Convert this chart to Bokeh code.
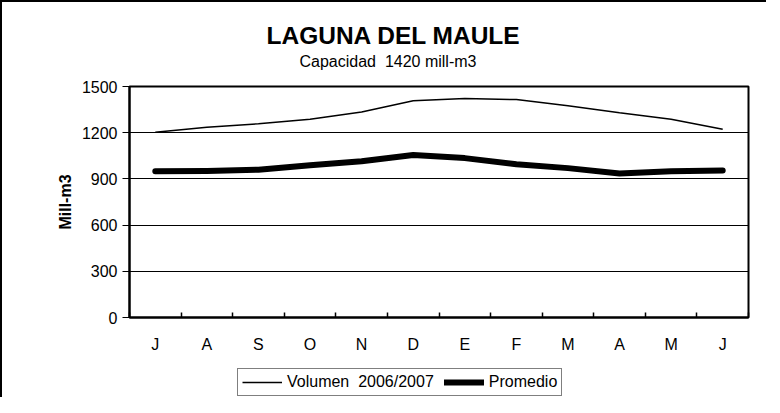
from bokeh.plotting import figure
from bokeh.layouts import column
from bokeh.models import FixedTicker, Legend, LegendItem, Title, ColumnDataSource
from bokeh.embed import file_html
from bokeh.resources import INLINE

# ---- data ----
months = ["J", "A", "S", "O", "N", "D", "E", "F", "M", "A", "M", "J"]
volumen = [1203, 1235, 1258, 1288, 1335, 1408, 1422, 1415, 1375, 1330, 1288, 1222]
promedio = [950, 952, 960, 988, 1015, 1055, 1035, 995, 970, 935, 950, 955]
y_ticks = [0, 300, 600, 900, 1200, 1500]
series_names = ["Volumen\u00a0 2006/2007", "Promedio"]

FONT = "Liberation Sans"

x = [i + 0.5 for i in range(len(months))]
src = ColumnDataSource(dict(x=x, vol=volumen, prom=promedio))

p = figure(frame_width=617, frame_height=229, x_range=(0, len(months)), y_range=(0, 1500),
           output_backend="svg", toolbar_location=None,
           min_border_left=127, min_border_right=20,
           min_border_top=84, min_border_bottom=47)
p.styles = {"border-top": "2px solid #000", "border-left": "2px solid #000"}

p.outline_line_color = "black"
p.outline_line_width = 2
p.background_fill_color = "white"
p.border_fill_color = "white"

thin = dict(line_color="black", line_width=1.5)
thick = dict(line_color="black", line_width=6, line_cap="round", line_join="round")

r1 = p.line("x", "vol", source=src, **thin)
r2 = p.line("x", "prom", source=src, **thick)

# titles
sub = Title(text="Capacidad\u00a0 1420 mill-m3", align="left", offset=170,
            text_font=FONT, text_font_size="16px", text_font_style="normal",
            text_color="black", standoff=33)
main = Title(text="LAGUNA DEL MAULE", align="left", offset=137,
             text_font=FONT, text_font_size="24.5px", text_font_style="bold",
             text_color="black", standoff=-29)
p.add_layout(sub, "above")
p.add_layout(main, "above")

# y axis
yax = p.yaxis[0]
yax.ticker = FixedTicker(ticks=y_ticks)
yax.axis_line_color = "black"
yax.axis_line_width = 2
yax.major_tick_out = 7
yax.major_tick_in = 0
yax.major_tick_line_width = 1
yax.minor_tick_line_color = None
yax.major_label_text_font = FONT
yax.major_label_text_font_size = "16px"
yax.major_label_text_color = "black"
yax.major_label_standoff = 5
yax.axis_label = "Mill-m3"
yax.axis_label_text_font = FONT
yax.axis_label_text_font_size = "16px"
yax.axis_label_text_font_style = "bold"
yax.axis_label_text_color = "black"
yax.axis_label_standoff = 5

# x axis: labels at month centres, ticks at boundaries
xax = p.xaxis[0]
xax.ticker = FixedTicker(ticks=x, minor_ticks=list(range(len(months) + 1)))
xax.major_label_overrides = {xi: m for xi, m in zip(x, months)}
xax.axis_line_color = "black"
xax.axis_line_width = 2
xax.major_tick_in = 0
xax.major_tick_out = 0
xax.minor_tick_in = 5
xax.minor_tick_out = 0
xax.minor_tick_line_color = "black"
xax.minor_tick_line_width = 1.5
xax.major_label_text_font = FONT
xax.major_label_text_font_size = "16px"
xax.major_label_text_color = "black"
xax.major_label_standoff = 18

p.xgrid.grid_line_color = None
p.ygrid.ticker = FixedTicker(ticks=y_ticks)
p.ygrid.grid_line_color = "black"
p.ygrid.grid_line_width = 1

# legend strip below the chart (same series, same styles)
q = figure(width=764, height=35, x_range=(0, 1), y_range=(0, 1),
           output_backend="svg", toolbar_location=None,
           x_axis_location=None, y_axis_location=None,
           min_border_left=0, min_border_right=0, min_border_top=0, min_border_bottom=0)
q.styles = {"border-left": "2px solid #000"}
q.outline_line_color = None
q.grid.grid_line_color = None
q.background_fill_color = "white"
q.border_fill_color = "white"
l1 = q.line("x", "vol", source=src, **thin)
l2 = q.line("x", "prom", source=src, **thick)

legend = Legend(items=[LegendItem(label=series_names[0], renderers=[l1]),
                       LegendItem(label=series_names[1], renderers=[l2])],
                orientation="horizontal", location=(108, 1))
legend.label_text_font = FONT
legend.label_text_font_size = "16px"
legend.label_text_color = "black"
legend.glyph_width = 40
legend.glyph_height = 14
legend.label_height = 14
legend.label_standoff = 5
legend.spacing = 10
legend.padding = 4
legend.margin = 0
legend.border_line_color = "black"
legend.border_line_width = 1
legend.background_fill_color = "white"
legend.background_fill_alpha = 1
q.add_layout(legend, "center")

layout = column(p, q, spacing=0)
open("out.html", "w").write(file_html(layout, INLINE))
